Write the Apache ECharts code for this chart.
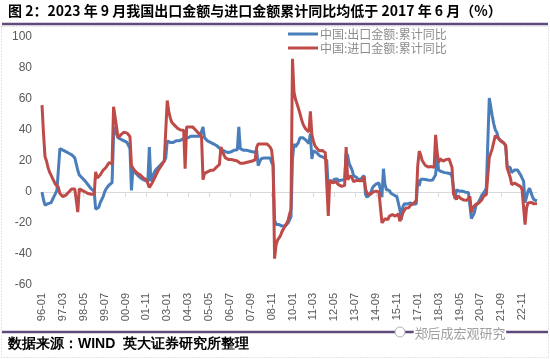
<!DOCTYPE html>
<html>
<head>
<meta charset="utf-8">
<script src="https://cdn.jsdelivr.net/npm/echarts@6/dist/echarts.min.js"></script>
<style>
html,body{margin:0;padding:0;background:#fff;}
#chart{width:550px;height:359px;}
</style>
</head>
<body>
<div id="chart"></div>
<script>
// ---- data ----
const years = [];
for (let y = 1996; y <= 2023; y++) years.push(y);
const categories = [];
years.forEach(function (y) {
  for (let m = 1; m <= 12; m++) {
    if (y === 2023 && m > 9) break;
    categories.push(String(y).slice(2) + '-' + (m < 10 ? '0' + m : m));
  }
});

const seriesNames = ['中国:出口金额:累计同比', '中国:进口金额:累计同比'];

const exportYoY = [
  0, -5, -8.5, -8, -7.5, -7, -7, -5, -3, -1, 1, 2,            // 1996
  28, 27, 27, 26.5, 26, 25.5, 25, 24.5, 24, 23.5, 22, 21,      // 1997
  14, 11, 10, 9, 8, 7, 6, 4.5, 3.5, 2, 1, 0.5,                 // 1998
  -11, -12, -10, -7, -5, -3, 0, 2, 3, 4.5, 5.5, 6.1,           // 1999
  36, 42, 38, 35, 35, 34, 34, 33, 33, 32, 31, 28,              // 2000
  1, 15, 14, 12, 11, 10, 9, 8.5, 8, 7.5, 7, 6.8,               // 2001
  29, 7, 10, 12, 14, 15, 16, 17, 18, 19, 20, 22,               // 2002
  33, 32, 32, 32, 32, 33, 33, 33, 33, 34, 34, 34.6,            // 2003
  35, 35, 35, 36, 36, 36, 36, 36, 36, 36, 36, 35.4,            // 2004
  42, 35, 34, 33, 32, 32, 31, 31, 31, 30, 30, 28.4,            // 2005
  28, 27, 26, 26, 25.5, 25.5, 26, 26, 26.5, 27, 27, 27.2,      // 2006
  42, 28, 27.5, 27, 27, 27, 27, 26.5, 26, 26, 26, 25.7,        // 2007
  27, 17, 19.5, 21.5, 22, 22, 22, 22, 22, 22, 19, 17.2,        // 2008
  -18, -21, -20, -21, -22, -22, -22, -22, -21, -20, -19, -16,  // 2009
  21, 31, 29, 30, 32, 35, 35.5, 35, 34, 33.5, 33, 31.3,        // 2010
  37.7, 21.3, 26.5, 26.5, 25.6, 24.5, 23.5, 23.5, 22.7, 22, 21.6, 20.3, // 2011
  2, 6.9, 7.6, 6.9, 8.2, 9.2, 8.4, 7.1, 7.4, 7.8, 7.3, 7.9,    // 2012
  25, 23.6, 18.4, 17.4, 14.1, 10.4, 9.6, 9.4, 8, 7.9, 8.5, 7.9, // 2013
  10.6, -1.6, -3.4, -2.2, -1.5, 0.9, 3.3, 4.4, 5.1, 5.7, 5.8, 6.1, // 2014
  -3.3, 15, 4.9, 1.6, 0.7, 0.9, -0.8, -1.5, -1.9, -2.5, -3, -2.9, // 2015
  -11.2, -17.8, -9.6, -7.6, -7.3, -7.7, -7.4, -7.1, -7.5, -7.7, -7.5, -7.7, // 2016
  7.9, 4, 8.2, 8, 8.2, 8.5, 7.9, 7.5, 7.5, 6.9, 7.8, 7.9,      // 2017
  11.1, 24.4, 14.1, 14.2, 13.2, 12.8, 12.5, 12.2, 12.2, 12.6, 11.8, 9.9, // 2018
  9.1, -4.6, 1.4, 0.2, 0.5, 0.1, 0.6, 0.5, -0.1, -0.2, -0.3, 0.5, // 2019
  -17.2, -17.2, -13.3, -9, -7.7, -6.2, -4.1, -2.3, -0.8, 0.5, 2.5, 3.6, // 2020
  60.6, 60.6, 49, 44, 40.2, 38.6, 35.3, 33.7, 33, 32.3, 31.1, 29.9, // 2021
  16.3, 16.3, 15.8, 12.5, 13.5, 14.2, 14.6, 14.2, 12.5, 11.1, 9, 7, // 2022
  -6.8, -6.8, 0.5, 2.5, -0.3, -3.2, -5, -5.6, -5.7             // 2023
];

const importYoY = [
  56, 38, 23, 20, 16, 13, 11, 9, 7, 5, 4, 3,                   // 1996
  -1, -2, -3, -2, -2, -1, 0, 1, 2, 3, 2, 2.5,                  // 1997
  -13, 2, 1.5, 1, 0.5, 0, -0.5, -1, -1.5, -1.5, -1.5, -1.5,    // 1998
  13, 9, 9, 11, 12, 14, 15, 16, 17, 19, 20, 18.2,              // 1999
  55, 54, 42, 35, 36, 37, 38, 38.6, 38.6, 38, 37, 35.8,        // 2000
  17, 16, 14, 13, 12, 11, 11, 10, 9, 8.5, 8, 8.2,              // 2001
  3, 2, 6, 8, 10, 12, 14, 15, 17, 18, 20, 21,                  // 2002
  59, 52, 48, 45, 44, 43, 42, 41, 40.5, 40, 39.5, 39.9,        // 2003
  15, 42, 42, 42, 42, 42, 41, 40, 39, 38, 37, 36,              // 2004
  8, 12, 13, 13, 14, 14, 14, 14, 15, 16, 17, 17.6,             // 2005
  29, 26, 24, 22, 21.5, 21, 21, 21, 21, 20.5, 20, 20,          // 2006
  19, 18.5, 18.5, 18.5, 19, 19, 19.5, 19.5, 20, 20, 20.5, 20.8, // 2007
  29, 31, 31, 31, 31, 31, 31, 31, 30, 29, 27, 18.5,            // 2008
  -43, -34, -31, -29.6, -28, -25.4, -23.8, -22, -20.4, -18.6, -14.4, -11.2, // 2009
  86, 64.6, 60, 57, 54, 50.7, 47, 44, 42, 40.5, 39.5, 38.7,    // 2010
  52, 37, 33, 30, 28.6, 27.6, 26.6, 26.6, 26.7, 26, 25.4, 24.9, // 2011
  -15.5, 7.7, 6.9, 5.9, 6.7, 6.7, 5.6, 4.6, 3.8, 3.6, 3.5, 4.3, // 2012
  29, 8, 8.4, 10.5, 9, 6.7, 7.3, 7.5, 7.5, 7.2, 7.1, 7.3,      // 2013
  10, 2, -1, -0.6, -1.6, -0.4, 0, -0.5, 0.6, 0.4, 0, 0.4,      // 2014
  -19.9, -20.5, -17.3, -17.6, -17.8, -15.5, -14.6, -14.6, -15.3, -15.6, -15.1, -14.1, // 2015
  -18.8, -16.7, -13.5, -12.3, -10.3, -10.2, -10.2, -8.7, -8.2, -7.6, -6.6, -5.5, // 2016
  16.7, 26.4, 24, 20.3, 19.2, 17.3, 16.7, 16.1, 16.5, 16.4, 17.2, 15.9, // 2017
  36.9, 25.8, 18.9, 21.5, 21.8, 19.9, 20.4, 20.9, 20.8, 21.4, 20.3, 15.8, // 2018
  -1.5, -3.1, -4.8, -2.5, -3.7, -4.3, -4.5, -5.2, -5.3, -5.3, -4.5, -2.8, // 2019
  -13, -10, -9, -8, -7.5, -7, -6, -5, -3, -2.4, -1.6, -1.1,    // 2020
  22.2, 22.2, 28, 32.2, 36.4, 36, 34.7, 33.8, 32.6, 31.4, 31.4, 30.1, // 2021
  15.5, 15.5, 9.6, 4.8, 5.7, 5.7, 5.3, 4.6, 4.1, 3.5, 1.6, 1.1, // 2022
  -21, -10.2, -7.1, -7.3, -6.7, -6.7, -7.6, -7.6, -7.5          // 2023
];

const yTicks = { min: -60, max: 100, interval: 20 };

// ---- chart ----
const chart = echarts.init(document.getElementById('chart'), null, { renderer: 'canvas' });
const cjk = '"Noto Sans CJK SC", "Liberation Sans", sans-serif';
chart.setOption({
  animation: false,
  backgroundColor: '#fff',
  title: {
    text: '图 2：2023 年 9 月我国出口金额与进口金额累计同比均低于 2017 年 6 月（%）',
    left: 8, top: 4, padding: 0,
    textStyle: { fontSize: 14, fontWeight: 'bold', color: '#000', fontFamily: cjk }
  },
  legend: {
    orient: 'vertical',
    left: 288, top: 28, padding: 0,
    itemWidth: 30, itemHeight: 3, itemGap: 2,
    icon: 'rect',
    data: seriesNames,
    textStyle: { fontSize: 12, color: '#8c8c8c', fontFamily: cjk, lineHeight: 12, padding: [0, 0, 0, -3] }
  },
  grid: { left: 42, right: 13, top: 37, bottom: 74, containLabel: false },
  xAxis: {
    type: 'category',
    data: categories,
    boundaryGap: false,
    axisLine: { lineStyle: { color: '#d9d9d9', width: 1 } },
    axisTick: { interval: 13, length: 5, lineStyle: { color: '#d9d9d9' } },
    axisLabel: {
      interval: 13, rotate: 90, margin: 8,
      fontSize: 11, color: '#595959', fontFamily: '"Liberation Sans", Arial, sans-serif'
    },
    splitLine: { show: false }
  },
  yAxis: {
    type: 'value',
    min: yTicks.min, max: yTicks.max, interval: yTicks.interval,
    axisLine: { show: false },
    axisTick: { show: false },
    splitLine: { show: false },
    axisLabel: { fontSize: 12, color: '#595959', margin: 10, fontFamily: '"Liberation Sans", Arial, sans-serif' }
  },
  series: [
    {
      name: seriesNames[0], type: 'line', data: exportYoY,
      showSymbol: false, symbol: 'none', smooth: false,
      lineStyle: { width: 3, color: '#4a7ebb' }, itemStyle: { color: '#4a7ebb' }, z: 2
    },
    {
      name: seriesNames[1], type: 'line', data: importYoY,
      showSymbol: false, symbol: 'none', smooth: false,
      lineStyle: { width: 3, color: '#be4b48' }, itemStyle: { color: '#be4b48' }, z: 3
    }
  ],
  graphic: [
    { type: 'rect', shape: { x: 1.5, y: 26.5, width: 547, height: 331 },
      style: { fill: 'none', stroke: '#c8c8c8', lineWidth: 1, lineDash: [1, 2] }, silent: true },
    { type: 'line', shape: { x1: 2, y1: 24, x2: 548, y2: 24 },
      style: { stroke: '#5f4a7c', lineWidth: 2.5 }, silent: true },
    { type: 'line', shape: { x1: 2, y1: 332, x2: 548, y2: 332 },
      style: { stroke: '#5f4a7c', lineWidth: 2.5 }, silent: true },
    { type: 'text', left: 8, top: 337,
      style: { text: '数据来源：WIND  英大证券研究所整理', fontSize: 14, fontWeight: 'bold',
        fill: '#000', font: 'bold 14px "Liberation Serif", "Noto Sans CJK SC", serif' }, silent: true },
    { type: 'text', left: 413, top: 325,
      style: { text: '郑后成宏观研究', fill: '#a0a0a0', stroke: '#ffffff', lineWidth: 3,
        font: '13px "Noto Sans CJK SC", sans-serif' }, silent: true },
    { type: 'circle', shape: { cx: 400, cy: 332, r: 5 },
      style: { fill: '#fff', stroke: '#b0b0b0', lineWidth: 1 }, silent: true }
  ]
});
</script>
</body>
</html>
